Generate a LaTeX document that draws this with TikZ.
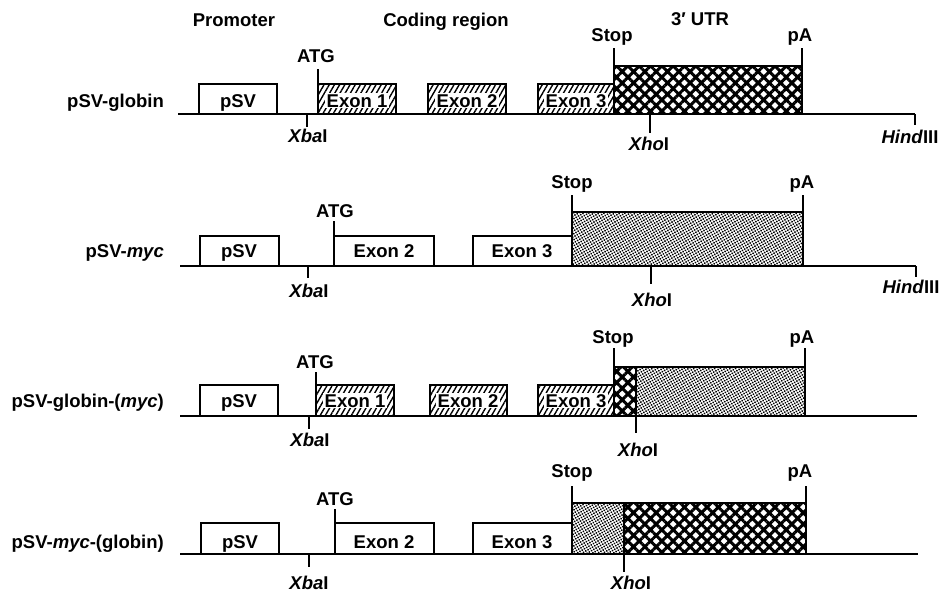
\documentclass[tikz,border=0pt]{standalone}
\usepackage{fontspec}
\setmainfont{Liberation Sans}
\usetikzlibrary{patterns.meta}

\begin{document}
\begin{tikzpicture}[
  x=1pt, y=-1pt,
  line join=miter,
  every node/.style={font=\fontsize{18.5}{22}\selectfont\bfseries, inner sep=0pt, anchor=base},
  mapline/.style={line width=2.2pt},
  cut/.style={line width=2pt},
  plainbox/.style={draw, line width=2pt, fill=white},
  globinexon/.style={draw, line width=2pt, pattern={Lines[angle=60,distance=4.5pt,line width=1.4pt]}},
  globinutr/.style={draw, line width=2pt, pattern={Hatch[angle=45,distance=8pt,line width=3pt]}},
  mycutr/.style={draw, line width=2pt, pattern={Dots[angle=30,distance=2.6pt,radius=1.05pt]}},
  exonlabel/.style={fill=white, inner xsep=1.5pt, inner ysep=1pt}
]
  \useasboundingbox (0,0) rectangle (946,592);

  % Column headers
  \node (promoter) at (234,26) {Promoter};
  \node (coding)   at (446,26) {Coding region};
  \node (utr)      at (700,25) {3′ UTR};

  % Row 1: pSV-globin (baseline y=114)
  \draw[plainbox]   (199,84) rectangle (277,114);
  \draw[globinexon] (318,84) rectangle (396,114);
  \draw[globinexon] (428,84) rectangle (506,114);
  \draw[globinexon] (538,84) rectangle (614,114);
  \draw[globinutr]  (614,66) rectangle (802,114);
  \draw[mapline] (178,114) -- (915,114);
  \draw[cut] (318,84) -- (318,69);   % ATG
  \draw[cut] (614,66) -- (614,48);   % Stop
  \draw[cut] (802,66) -- (802,48);   % pA
  \draw[cut] (307,114) -- (307,127); % XbaI
  \draw[cut] (650,114) -- (650,133); % XhoI
  \draw[cut] (915,114) -- (915,125); % HindIII
  \node[anchor=base east] (name1) at (164,107) {pSV-globin};
  \node (psv1) at (238,107) {pSV};
  \node[exonlabel] (exA1) at (357,107) {Exon 1};
  \node[exonlabel] (exB1) at (467,107) {Exon 2};
  \node[exonlabel] (exC1) at (576,107) {Exon 3};
  \node (atg1)  at (316,62)  {ATG};
  \node (stop1) at (612,41)  {Stop};
  \node (pa1)   at (800,41)  {pA};
  \node (xba1)  at (308,142) {\textit{Xba}I};
  \node (xho1)  at (649,150) {\textit{Xho}I};
  \node (hind1) at (910,143) {\textit{Hind}III};

  % Row 2: pSV-myc (baseline y=266)
  \draw[plainbox] (200,236) rectangle (279,266);
  \draw[plainbox] (334,236) rectangle (434,266);
  \draw[plainbox] (473,236) rectangle (572,266);
  \draw[mycutr]   (572,212) rectangle (803,266);
  \draw[mapline] (180,266) -- (916,266);
  \draw[cut] (334,236) -- (334,221); % ATG
  \draw[cut] (572,212) -- (572,195); % Stop
  \draw[cut] (803,212) -- (803,195); % pA
  \draw[cut] (308,266) -- (308,278); % XbaI
  \draw[cut] (651,266) -- (651,284); % XhoI
  \draw[cut] (916,266) -- (916,277); % HindIII
  \node[anchor=base east] (name2) at (164,257) {pSV-\textit{myc}};
  \node (psv2) at (239,257) {pSV};
  \node (exB2) at (384,257) {Exon 2};
  \node (exC2) at (522,257) {Exon 3};
  \node (atg2)  at (335,217) {ATG};
  \node (stop2) at (572,188) {Stop};
  \node (pa2)   at (802,188) {pA};
  \node (xba2)  at (309,297) {\textit{Xba}I};
  \node (xho2)  at (652,306) {\textit{Xho}I};
  \node (hind2) at (911,293) {\textit{Hind}III};

  % Row 3: pSV-globin-(myc) (baseline y=416)
  \draw[plainbox]   (200,385) rectangle (278,416);
  \draw[globinexon] (316,385) rectangle (394,416);
  \draw[globinexon] (430,385) rectangle (507,416);
  \draw[globinexon] (538,385) rectangle (614,416);
  \draw[globinutr]  (614,367) rectangle (636,416);
  \draw[mycutr]     (636,367) rectangle (805,416);
  \draw[mapline] (180,416) -- (917,416);
  \draw[cut] (316,385) -- (316,372); % ATG
  \draw[cut] (614,367) -- (614,348); % Stop
  \draw[cut] (805,367) -- (805,348); % pA
  \draw[cut] (309,416) -- (309,429); % XbaI
  \draw[cut] (636,416) -- (636,433); % XhoI
  \node[anchor=base east] (name3) at (164,407) {pSV-globin-(\textit{myc})};
  \node (psv3) at (239,407) {pSV};
  \node[exonlabel] (exA3) at (355,407) {Exon 1};
  \node[exonlabel] (exB3) at (468,407) {Exon 2};
  \node[exonlabel] (exC3) at (576,407) {Exon 3};
  \node (atg3)  at (315,368) {ATG};
  \node (stop3) at (613,343) {Stop};
  \node (pa3)   at (802,343) {pA};
  \node (xba3)  at (310,446) {\textit{Xba}I};
  \node (xho3)  at (638,456) {\textit{Xho}I};

  % Row 4: pSV-myc-(globin) (baseline y=554)
  \draw[plainbox]  (201,523) rectangle (279,554);
  \draw[plainbox]  (335,523) rectangle (434,554);
  \draw[plainbox]  (473,523) rectangle (572,554);
  \draw[mycutr]    (572,503) rectangle (624,554);
  \draw[globinutr] (624,503) rectangle (806,554);
  \draw[mapline] (180,554) -- (918,554);
  \draw[cut] (335,523) -- (335,509); % ATG
  \draw[cut] (572,503) -- (572,486); % Stop
  \draw[cut] (806,503) -- (806,486); % pA
  \draw[cut] (309,554) -- (309,567); % XbaI
  \draw[cut] (624,554) -- (624,572); % XhoI
  \node[anchor=base east] (name4) at (164,548) {pSV-\textit{myc}-(globin)};
  \node (psv4) at (240,548) {pSV};
  \node (exB4) at (384,548) {Exon 2};
  \node (exC4) at (522,548) {Exon 3};
  \node (atg4)  at (335,505) {ATG};
  \node (stop4) at (572,477) {Stop};
  \node (pa4)   at (800,477) {pA};
  \node (xba4)  at (309,589) {\textit{Xba}I};
  \node (xho4)  at (631,589) {\textit{Xho}I};
\end{tikzpicture}
\end{document}
